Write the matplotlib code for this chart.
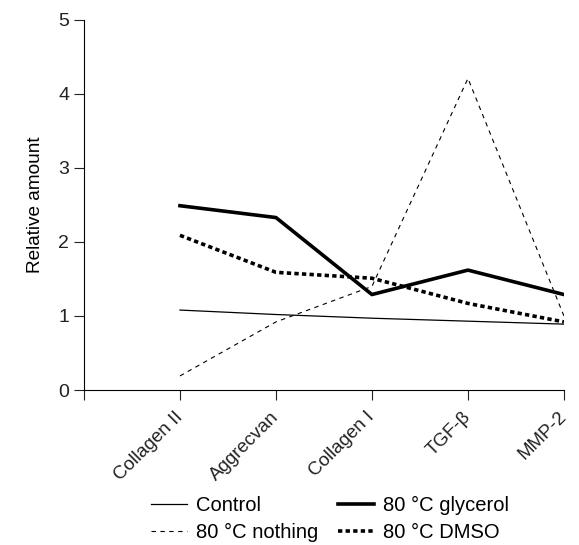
import matplotlib
matplotlib.use("Agg")
import matplotlib.pyplot as plt

plt.rcParams['font.family'] = ['Liberation Sans', 'DejaVu Sans']

genes = ['Collagen II', 'Aggrecvan', 'Collagen I', 'TGF-\u03b2', 'MMP-2']
control = [1.08, 1.02, 0.97, 0.93, 0.89]
nothing = [0.19, 0.92, 1.40, 4.21, 1.00]
glycerol = [2.49, 2.33, 1.29, 1.62, 1.29]
dmso = [2.09, 1.59, 1.51, 1.17, 0.92]

fig = plt.figure(figsize=(5.79, 5.45), dpi=100)
ax = fig.add_axes([0.145, 0.2844, 0.829, 0.679])

x = list(range(1, len(genes) + 1))
l1, = ax.plot(x, control, color='black', lw=0.9, label='Control')
l2, = ax.plot(x, nothing, color='black', lw=0.8, dashes=(4, 4), label='80 \u00b0C nothing')
l3, = ax.plot(x, glycerol, color='black', lw=2.6, label='80 \u00b0C glycerol')
l4, = ax.plot(x, dmso, color='black', lw=2.6, dashes=(1.2, 0.9), label='80 \u00b0C DMSO')

ax.set_xlim(0, 5)
ax.set_ylim(0, 5)
ax.set_xticks([0] + x)
ax.set_xticklabels([''] + genes, rotation=45, ha='right', va='center', rotation_mode='anchor')
ax.set_yticks(range(6))
ax.tick_params(direction='out', length=7.5, width=0.8, labelsize=14, colors='#222222')
ax.tick_params(axis='y', pad=3)
ax.tick_params(axis='x', pad=10, labelsize=13.5)
ax.set_ylabel('Relative amount', fontsize=13.7, labelpad=10)
for s in ['top', 'right']:
    ax.spines[s].set_visible(False)
for s in ['left', 'bottom']:
    ax.spines[s].set_linewidth(0.8)

fig.legend(handles=[l1, l2, l3, l4], ncol=2, frameon=False, fontsize=14.5,
           loc='center', bbox_to_anchor=(0.57, 1 - 519 / 545), handlelength=1.8,
           columnspacing=0.95, handletextpad=0.45, labelspacing=0.38,
           borderpad=0.2)

fig.savefig('out.png', dpi=100)
